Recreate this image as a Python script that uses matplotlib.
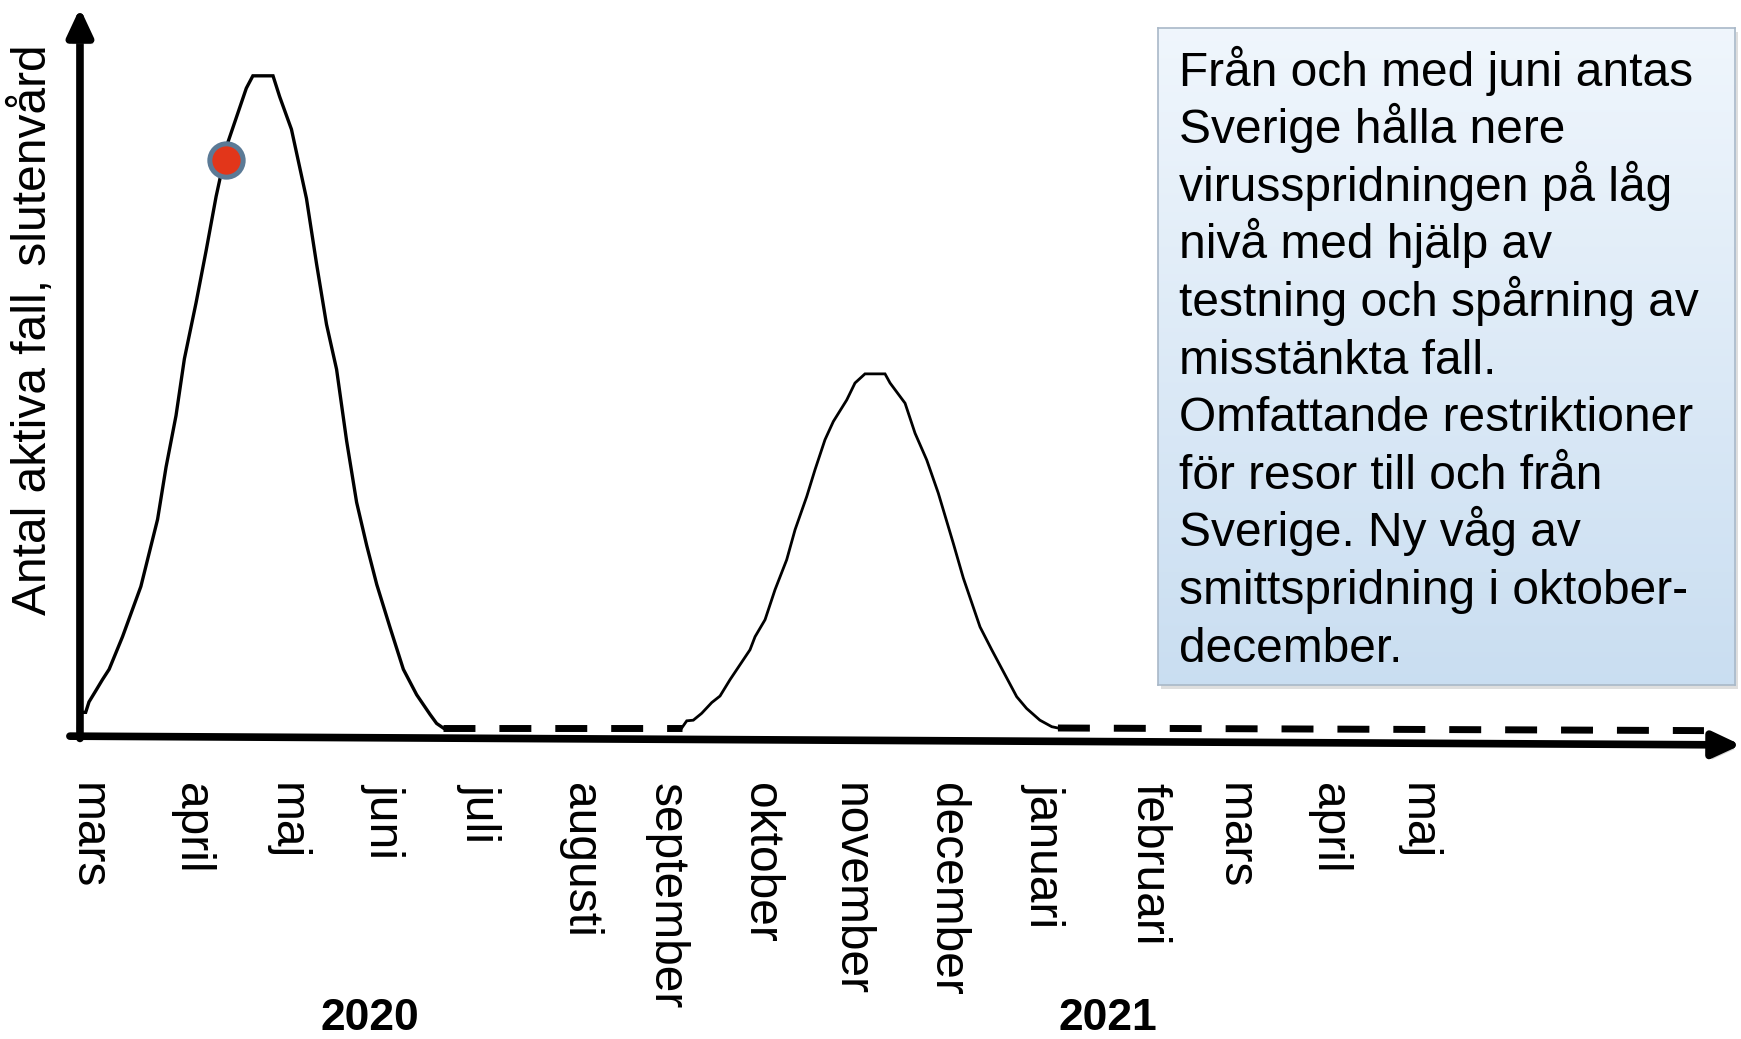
import matplotlib.pyplot as plt
import matplotlib.patheffects as pe
import matplotlib.transforms as mtransforms
import numpy as np

plt.rcParams['font.family'] = ['Liberation Sans', 'DejaVu Sans']

# months after March 2020 (x) and relative number of active cases (y)
wave1_x = [-0.09, -0.084, -0.014, 0.021, 0.092, 0.162, 0.233, 0.374, 0.567, 0.743, 0.832,
           0.937, 1.025, 1.148, 1.254, 1.359, 1.483, 1.677, 1.746, 1.958, 2.028, 2.152,
           2.31, 2.416, 2.521, 2.627, 2.733, 2.838, 2.944, 3.05, 3.19, 3.33, 3.47, 3.61,
           3.68, 3.75]
wave1_y = [0.0, 2.4, 2.4, 4.0, 5.7, 7.4, 9.0, 14.0, 21.7, 32.0, 40.0,
           47.9, 56.6, 65.2, 73.2, 81.5, 89.8, 98.1, 100, 100, 96.8, 91.8,
           81.2, 71.2, 61.9, 55.0, 44.0, 34.6, 28.0, 22.0, 15.4, 9.0, 5.1, 2.1,
           0.7, 0.0]
wave2_x = [6.26, 6.313, 6.382, 6.47, 6.576, 6.663, 6.768, 6.979, 7.032, 7.137, 7.242,
           7.365, 7.453, 7.576, 7.663, 7.768, 7.856, 7.997, 8.084, 8.189, 8.4, 8.453,
           8.611, 8.716, 8.839, 8.961, 9.119, 9.224, 9.4, 9.523, 9.786, 9.89, 10.03,
           10.155, 10.22]
wave2_y = [0.0, 1.1, 1.2, 2.25, 3.9, 4.9, 7.4, 12.0, 14.0, 16.6, 21.2,
           25.8, 30.4, 35.5, 39.6, 44.2, 47.0, 50.3, 52.9, 54.3, 54.3, 52.9,
           49.8, 45.2, 41.1, 36.0, 28.3, 23.0, 15.5, 12.0, 4.8, 3.0, 1.2,
           0.2, 0.0]
low1_x, low1_y = [3.75, 6.26], [0.0, 0.0]
low2_x, low2_y = [10.22, 17.02], [0.0, -0.4]
now_x, now_y = 1.468, 87.1

months = ['mars', 'april', 'maj', 'juni', 'juli', 'augusti', 'september', 'oktober',
          'november', 'december', 'januari', 'februari', 'mars', 'april', 'maj']
month_pos = [0, 1.1, 2.1, 3.12, 4.13, 5.18, 6.1, 7.09, 8.03, 9.05, 10.07, 11.18, 12.08, 13.07, 14.0]
years = ['2020', '2021']
year_pos = [2.98, 10.75]

ylabel = 'Antal aktiva fall, slutenvård'
box_lines = ['Från och med juni antas', 'Sverige hålla nere', 'virusspridningen på låg',
             'nivå med hjälp av', 'testning och spårning av', 'misstänkta fall.',
             'Omfattande restriktioner', 'för resor till och från', 'Sverige. Ny våg av',
             'smittspridning i oktober-', 'december.']

W, H = 1741, 1039
FS = 34.5


def fx(px):
    return px / W


def fy(py):
    return 1 - py / H


fig = plt.figure(figsize=(W / 100, H / 100), dpi=100)
ax = fig.add_axes([fx(78), fy(737), fx(1741 - 78), (737 - 8) / H])
ax.set_xlim(-0.0947, 17.41)
ax.set_ylim(-1.38, 110.4)
for s in ax.spines.values():
    s.set_visible(False)
ax.set_yticks([])
ax.set_xticks(month_pos, months, rotation=-90, ha='center', va='top', fontsize=FS)
ax.tick_params(axis='x', length=0, pad=33)

shadow = [pe.SimplePatchShadow(offset=(2, -3), shadow_rgbFace='#888888', alpha=0.35), pe.Normal()]

# axes arrows
ax.annotate('', xy=(-0.074, 110.4), xytext=(-0.074, -1.6), annotation_clip=False,
            arrowprops=dict(arrowstyle='-|>,head_length=0.75,head_width=0.35', lw=5.5,
                            color='black', shrinkA=0, shrinkB=0, mutation_scale=22,
                            path_effects=shadow))
ax.annotate('', xy=(17.41, -2.6), xytext=(-0.18, -1.25), annotation_clip=False,
            arrowprops=dict(arrowstyle='-|>,head_length=0.75,head_width=0.35', lw=5.5,
                            color='black', shrinkA=0, shrinkB=0, mutation_scale=22,
                            path_effects=shadow))

ax.plot(wave1_x, wave1_y, color='black', lw=2.4, clip_on=False, solid_joinstyle='miter')
ax.plot(wave2_x, wave2_y, color='black', lw=2.0, clip_on=False, solid_joinstyle='miter')
ax.plot(low1_x, low1_y, color='black', lw=5.0, dashes=(4.6, 3.45), dash_capstyle='butt')
ax.plot(low2_x, low2_y, color='black', lw=5.0, dashes=(4.6, 3.45), dash_capstyle='butt',
        clip_on=False)
ax.plot([now_x], [now_y], 'o', ms=24, mfc='#e2361a', mec='#5b7a96', mew=3.6, zorder=5)

fig.text(fx(33), fy(330), ylabel, rotation=90, ha='center', va='center', fontsize=FS)

year_tr = mtransforms.blended_transform_factory(ax.transData, fig.transFigure)
for yr, xp in zip(years, year_pos):
    ax.text(xp, fy(1018), yr, transform=year_tr, ha='center', va='center',
            fontsize=32, fontweight='bold')

# text box with gradient and shadow
bx0, by0, bx1, by1 = 1158, 28, 1735, 685
sh = fig.add_axes([fx(bx0 + 3), fy(by1 + 4), fx(bx1 - bx0), (by1 - by0) / H])
sh.set_facecolor('#c8c8c8')
sh.set_xticks([]); sh.set_yticks([])
for s in sh.spines.values():
    s.set_visible(False)
sh.patch.set_alpha(0.6)
bax = fig.add_axes([fx(bx0), fy(by1), fx(bx1 - bx0), (by1 - by0) / H])
grad = np.linspace(0, 1, 256).reshape(-1, 1)
top = np.array([0.94, 0.965, 0.99])
bot = np.array([0.79, 0.87, 0.945])
img = top + (bot - top) * grad[:, :, None]
bax.imshow(img, aspect='auto', extent=(0, 1, 0, 1))
bax.set_xticks([]); bax.set_yticks([])
for s in bax.spines.values():
    s.set_color('#a9b8c8')
    s.set_linewidth(1.2)

for i, line in enumerate(box_lines):
    fig.text(fx(1179), fy(85.5 + i * 57.6), line, ha='left', va='baseline', fontsize=FS)

fig.savefig('out.png', dpi=100)
